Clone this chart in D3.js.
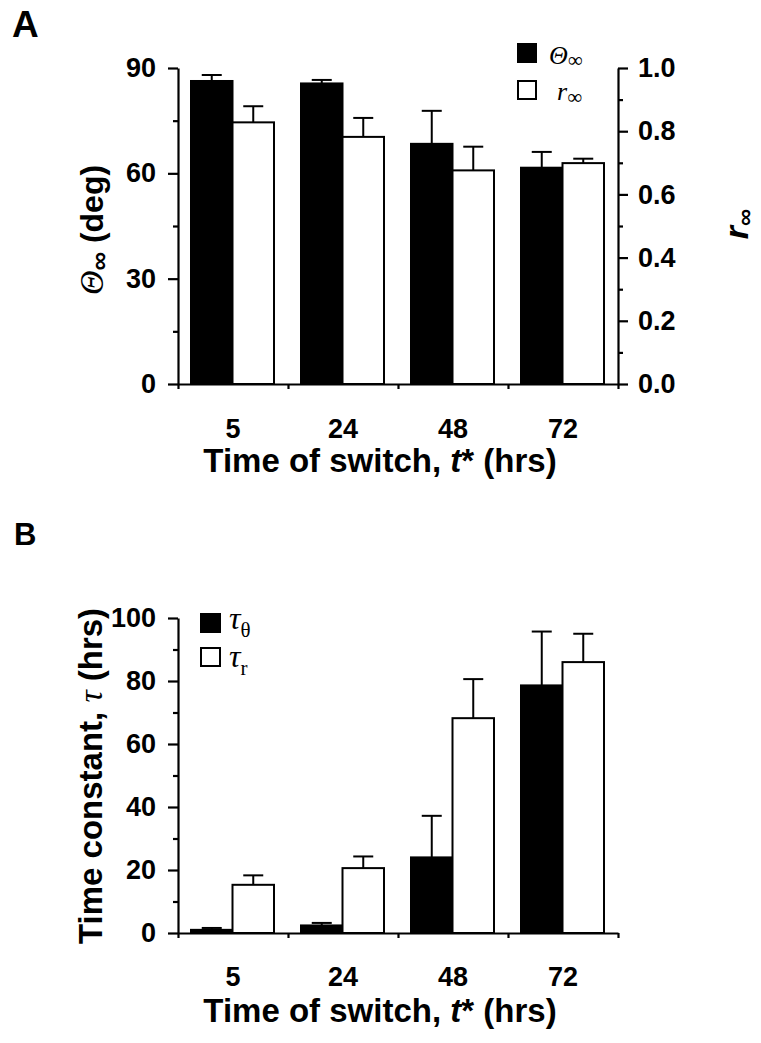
<!DOCTYPE html>
<html>
<head>
<meta charset="utf-8">
<script src="https://cdn.jsdelivr.net/npm/d3@7"></script>
<style>
  html, body { margin: 0; padding: 0; background: #fff; }
  svg { display: block; }
  .sans { font-family: "Liberation Sans", Arial, Helvetica, sans-serif; font-weight: bold; }
  .serif { font-family: "Liberation Serif", "Times New Roman", serif; }
</style>
</head>
<body>
<script>
// ---------- data ----------
const categories = ["5", "24", "48", "72"];
// Panel A
const thetaInf = [86.3, 85.6, 68.4, 61.6];
const thetaInfErr = [1.7, 1.0, 9.4, 4.5];
const rInf = [0.828, 0.782, 0.676, 0.699];
const rInfErr = [0.051, 0.060, 0.075, 0.014];
const thetaTicks = [0, 30, 60, 90];
const thetaMinor = [15, 45, 75];
const rTicks = [0, 0.2, 0.4, 0.6, 0.8, 1.0];
const rMinor = [0.1, 0.3, 0.5, 0.7, 0.9];
// Panel B
const tauTheta = [1.0, 2.4, 24.0, 78.6];
const tauThetaErr = [0.6, 0.8, 13.2, 17.1];
const tauR = [15.3, 20.6, 68.2, 86.0];
const tauRErr = [3.0, 3.7, 12.4, 9.0];
const tauTicks = [0, 20, 40, 60, 80, 100];
const tauMinor = [10, 30, 50, 70, 90];

const W = 761, H = 1043;
const TICK_FS = 27;
const svg = d3.select("body").append("svg").attr("width", W).attr("height", H);

const x = d3.scaleBand(categories, [178, 618]);
const sub = d3.scaleBand(["black", "white"], [13, 96]);
const bounds = d3.scaleLinear([0, 4], [178, 618]);

function styleAxis(g, fs) {
  g.select(".domain").attr("stroke", "#000").attr("stroke-width", 2.2);
  g.selectAll(".tick line").attr("stroke", "#000").attr("stroke-width", 2.2);
  g.selectAll("text").attr("class", "sans").attr("font-size", fs).attr("fill", "#000");
  g.attr("font-family", null).attr("font-size", null);
}

function drawBars(g, y, vals, errs, key, fill) {
  const w = sub.bandwidth();
  const grp = g.append("g");
  categories.forEach((c, i) => {
    const x0 = x(c) + sub(key);
    grp.append("rect")
      .attr("x", x0).attr("width", w)
      .attr("y", y(vals[i])).attr("height", y(0) - y(vals[i]))
      .attr("fill", fill).attr("stroke", "#000").attr("stroke-width", 2);
    const cx = x0 + w / 2;
    grp.append("line").attr("x1", cx).attr("x2", cx)
      .attr("y1", y(vals[i])).attr("y2", y(vals[i] + errs[i]))
      .attr("stroke", "#000").attr("stroke-width", 2);
    grp.append("line").attr("x1", cx - 10).attr("x2", cx + 10)
      .attr("y1", y(vals[i] + errs[i])).attr("y2", y(vals[i] + errs[i]))
      .attr("stroke", "#000").attr("stroke-width", 2);
  });
}

function drawXAxis(g, y0, labelPad) {
  const a1 = g.append("g").attr("transform", `translate(0,${y0})`)
    .call(d3.axisBottom(bounds).tickValues([0, 1, 2, 3, 4]).tickFormat("").tickSize(5).tickSizeOuter(0));
  styleAxis(a1, TICK_FS);
  const a2 = g.append("g").attr("transform", `translate(0,${y0})`)
    .call(d3.axisBottom(x).tickSize(0).tickPadding(labelPad));
  a2.select(".domain").remove();
  styleAxis(a2, TICK_FS);
}

// ================= Panel A =================
const yA = d3.scaleLinear([0, 90], [384, 68]);
const yR = d3.scaleLinear([0, 1], [384, 68]);
const gA = svg.append("g");

drawBars(gA, yA, thetaInf, thetaInfErr, "black", "#000");
drawBars(gA, yR, rInf, rInfErr, "white", "#fff");

let ax = gA.append("g").attr("transform", "translate(178,0)")
  .call(d3.axisLeft(yA).tickValues(thetaTicks).tickSize(10).tickPadding(12).tickSizeOuter(0));
styleAxis(ax, TICK_FS);
ax = gA.append("g").attr("transform", "translate(178,0)")
  .call(d3.axisLeft(yA).tickValues(thetaMinor).tickSize(5).tickFormat("").tickSizeOuter(0));
ax.select(".domain").remove(); styleAxis(ax, TICK_FS);

ax = gA.append("g").attr("transform", "translate(618,0)")
  .call(d3.axisRight(yR).tickValues(rTicks).tickFormat(d3.format(".1f")).tickSize(10).tickPadding(10).tickSizeOuter(0));
styleAxis(ax, TICK_FS);
ax = gA.append("g").attr("transform", "translate(618,0)")
  .call(d3.axisRight(yR).tickValues(rMinor).tickSize(5).tickFormat("").tickSizeOuter(0));
ax.select(".domain").remove(); styleAxis(ax, TICK_FS);

drawXAxis(gA, 384, 35);

// panel label
svg.append("text").attr("class", "sans").attr("x", 12).attr("y", 37).attr("font-size", 37).text("A");

// x title
function xTitle(yb) {
  const t = svg.append("text").attr("class", "sans").attr("x", 380).attr("y", yb)
    .attr("text-anchor", "middle").attr("font-size", 33);
  t.append("tspan").text("Time of switch, ");
  t.append("tspan").attr("font-style", "italic").text("t");
  t.append("tspan").text("* (hrs)");
}
xTitle(472);

// y title A (left)
{
  const t = svg.append("text").attr("transform", "translate(103,230) rotate(-90)")
    .attr("text-anchor", "middle");
  t.append("tspan").attr("class", "serif").attr("font-style", "italic").attr("font-size", 34).text("Θ");
  t.append("tspan").attr("class", "sans").attr("font-weight", "normal").attr("font-size", 26).attr("dy", 5).text("∞");
  t.append("tspan").attr("class", "sans").attr("font-size", 32).attr("dy", -5).text(" (deg)");
}
// y title A (right)
{
  const t = svg.append("text").attr("transform", "translate(748,224) rotate(-90)")
    .attr("text-anchor", "middle");
  t.append("tspan").attr("class", "sans").attr("font-style", "italic").attr("font-size", 34).text("r");
  t.append("tspan").attr("class", "sans").attr("font-weight", "normal").attr("font-size", 24).attr("dy", 5).text("∞");
}

// legend A
gA.append("rect").attr("x", 517).attr("y", 43).attr("width", 20).attr("height", 20).attr("fill", "#000");
gA.append("rect").attr("x", 518).attr("y", 81).attr("width", 18).attr("height", 18)
  .attr("fill", "#fff").attr("stroke", "#000").attr("stroke-width", 2);
{
  const t = gA.append("text").attr("x", 549).attr("y", 64);
  t.append("tspan").attr("class", "serif").attr("font-style", "italic").attr("font-size", 26).text("Θ");
  t.append("tspan").attr("class", "serif").attr("font-size", 21).attr("dy", 3).text("∞");
  const t2 = gA.append("text").attr("x", 557).attr("y", 100);
  t2.append("tspan").attr("class", "serif").attr("font-style", "italic").attr("font-size", 26).text("r");
  t2.append("tspan").attr("class", "serif").attr("font-size", 21).attr("dy", 4).text("∞");
}

// ================= Panel B =================
const yB = d3.scaleLinear([0, 100], [933, 618]);
const gB = svg.append("g");

drawBars(gB, yB, tauTheta, tauThetaErr, "black", "#000");
drawBars(gB, yB, tauR, tauRErr, "white", "#fff");

ax = gB.append("g").attr("transform", "translate(178,0)")
  .call(d3.axisLeft(yB).tickValues(tauTicks).tickSize(10).tickPadding(12).tickSizeOuter(0));
styleAxis(ax, TICK_FS);
ax = gB.append("g").attr("transform", "translate(178,0)")
  .call(d3.axisLeft(yB).tickValues(tauMinor).tickSize(5).tickFormat("").tickSizeOuter(0));
ax.select(".domain").remove(); styleAxis(ax, TICK_FS);

drawXAxis(gB, 933, 34);

svg.append("text").attr("class", "sans").attr("x", 14).attr("y", 545).attr("font-size", 31).text("B");
xTitle(1022);

{
  const t = svg.append("text").attr("transform", "translate(102,776) rotate(-90)")
    .attr("text-anchor", "middle");
  t.append("tspan").attr("class", "sans").attr("font-size", 33).text("Time constant, ");
  t.append("tspan").attr("class", "serif").attr("font-style", "italic").attr("font-size", 34).text("τ");
  t.append("tspan").attr("class", "sans").attr("font-size", 33).text(" (hrs)");
}

// legend B
gB.append("rect").attr("x", 200).attr("y", 613).attr("width", 21).attr("height", 20).attr("fill", "#000");
gB.append("rect").attr("x", 201).attr("y", 648).attr("width", 19).attr("height", 18)
  .attr("fill", "#fff").attr("stroke", "#000").attr("stroke-width", 2);
{
  const t = gB.append("text").attr("x", 229).attr("y", 629);
  t.append("tspan").attr("class", "serif").attr("font-style", "italic").attr("font-size", 32).text("τ");
  t.append("tspan").attr("class", "serif").attr("font-size", 21).attr("dy", 8).text("θ");
  const t2 = gB.append("text").attr("x", 229).attr("y", 667);
  t2.append("tspan").attr("class", "serif").attr("font-style", "italic").attr("font-size", 32).text("τ");
  t2.append("tspan").attr("class", "serif").attr("font-size", 21).attr("dy", 8).text("r");
}
</script>
</body>
</html>
